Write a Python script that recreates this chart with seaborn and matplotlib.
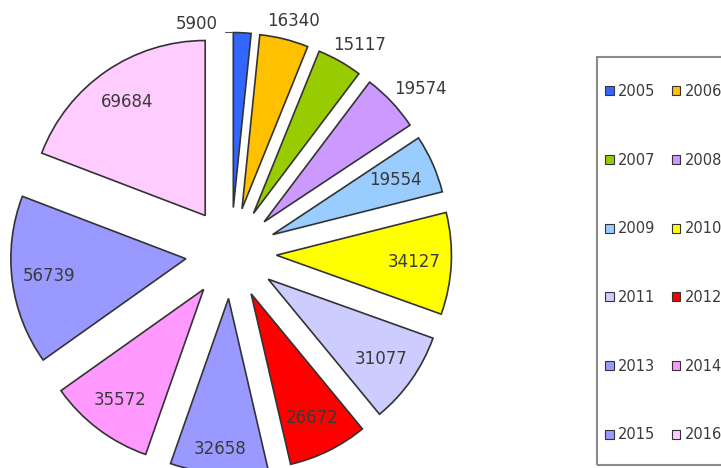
import matplotlib
matplotlib.use("Agg")
import matplotlib.pyplot as plt
import seaborn as sns
import numpy as np
from matplotlib.patches import Patch, Rectangle

years = ["2005", "2006", "2007", "2008", "2009", "2010",
         "2011", "2012", "2013", "2014", "2015", "2016"]
values = [5900, 16340, 15117, 19574, 19554, 34127,
          31077, 26672, 32658, 35572, 56739, 69684]
colors = ["#3366FF", "#FFC000", "#99CC00", "#CC99FF", "#99CCFF", "#FFFF00",
          "#CCCCFF", "#FF0000", "#9999FF", "#FF99FF", "#9999FF", "#FFCCFF"]
label_inside = [False, False, False, False, True, True,
                True, True, True, True, True, True]

sns.set_theme(style="white")
plt.rcParams['font.family'] = ['DejaVu Sans']

W, H = 721, 468
fig = plt.figure(figsize=(W / 100, H / 100), dpi=100)
fig.patch.set_facecolor("white")
cx, cy, R = 231, 253, 175
ax = fig.add_axes([0, 0, 1, 1])
wedges, _ = ax.pie(values, colors=colors, startangle=90, counterclock=False,
                   explode=[0.26] * len(values), radius=1,
                   wedgeprops=dict(edgecolor="#333333", linewidth=1.2))
ax.set_xlim(-cx / R, (W - cx) / R)
ax.set_ylim(-(H - cy) / R, cy / R)
ax.set_aspect("auto")
ax.axis("off")

txtc = "#3a3a3a"
fs = 12
inside_dist = {4: 0.77, 8: 0.86}
half_w, half_h = 28 / R, 7 / R
for i, (w, v) in enumerate(zip(wedges, values)):
    th = np.deg2rad((w.theta1 + w.theta2) / 2)
    x0, y0 = w.center
    if label_inside[i]:
        d = inside_dist.get(i, 0.79)
        ax.text(x0 + d * np.cos(th), y0 + d * np.sin(th), str(v), ha="center",
                va="center", fontsize=fs, color=txtc)
    elif i == 0:
        # small slice: label shifted left with a leader line
        tx, ty = (218 - cx) / R, (cy - 24) / R
        ax.text(tx, ty, str(v), ha="right", va="center", fontsize=fs, color=txtc)
        t2 = np.deg2rad(w.theta2)
        ex, ey = x0 + np.cos(t2), y0 + np.sin(t2)
        ax.plot([(225 - cx) / R, ex - 0.005], [ey + 0.005, ey + 0.005],
                color="#555555", lw=0.8)
    else:
        off = 12 / R
        lx = x0 + (1 + off) * np.cos(th) + half_w * np.cos(th)
        ly = y0 + (1 + off) * np.sin(th) + half_h * np.sin(th)
        ax.text(lx, ly, str(v), ha="center", va="center", fontsize=fs, color=txtc)

# legend frame (cut by right edge, as in the reference)
fig.add_artist(Rectangle((597 / W, (H - 465) / H), (740 - 597) / W, (465 - 57) / H,
                         transform=fig.transFigure, fill=False,
                         edgecolor="#8a8a8a", linewidth=1.5))

handles = [Patch(facecolor=c, edgecolor="#333333", linewidth=0.8) for c in colors]
order = list(range(0, 12, 2)) + list(range(1, 12, 2))
leg = fig.legend([handles[k] for k in order], [years[k] for k in order],
                 loc="upper left", bbox_to_anchor=(605 / W, 1 - 84 / H),
                 ncol=2, frameon=False, borderpad=0, fontsize=10.5,
                 handlelength=0.6, handleheight=0.6, handletextpad=0.3,
                 columnspacing=1.1, labelspacing=3.68, borderaxespad=0)
for t in leg.get_texts():
    t.set_color(txtc)

fig.savefig("out.png", dpi=100)
